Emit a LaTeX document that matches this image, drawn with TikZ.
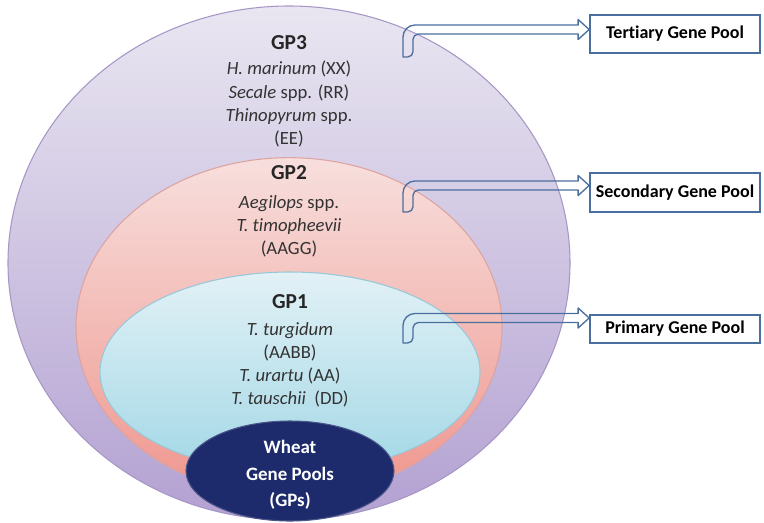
\documentclass[tikz,border=0pt]{standalone}
\usepackage{fontspec}
\setmainfont{Carlito}[Ligatures=NoCommon]
\usetikzlibrary{positioning, calc, shapes.geometric}

\definecolor{gpthreetop}{HTML}{E9E6F1}
\definecolor{gpthreebot}{HTML}{B3A1D2}
\definecolor{gpthreeline}{HTML}{A797C6}
\definecolor{gptwotop}{HTML}{F7DFDD}
\definecolor{gptwobot}{HTML}{EF968E}
\definecolor{gptwoline}{HTML}{DDA3A0}
\definecolor{gponetop}{HTML}{E2F1F6}
\definecolor{gponebot}{HTML}{A3D8E6}
\definecolor{gponeline}{HTML}{98C8D8}
\definecolor{wheatblue}{HTML}{1D2B6C}
\definecolor{arrowblue}{HTML}{4A6E9E}

\begin{document}
\begin{tikzpicture}[x=0.75pt, y=-0.75pt,
    pool/.style={ellipse, draw, line width=0.8pt, inner sep=0pt},
    pooltitle/.style={font=\fontsize{16}{19}\selectfont\bfseries, text=black!85},
    species/.style={align=center, font=\fontsize{14}{17.3}\selectfont, text=black!80},
    poolbox/.style={draw=arrowblue, line width=1.3pt, fill=white, minimum width=127.5pt,
        font=\fontsize{13.5}{15}\selectfont\bfseries},
    bentarrow/.style={draw=arrowblue, line width=1pt, line join=round}]

    \useasboundingbox (0,0) rectangle (764,522);

    % Nested gene pools
    \node[pool, draw=gpthreeline, top color=gpthreetop, bottom color=gpthreebot,
        minimum width=421.5pt, minimum height=385.5pt] (GP3) at (289,263) {};
    \node[pool, draw=gptwoline, top color=gptwotop, bottom color=gptwobot,
        minimum width=319.5pt, minimum height=254pt] (GP2) at (289,327) {};
    \node[pool, draw=gponeline, top color=gponetop, bottom color=gponebot,
        minimum width=285pt, minimum height=150pt] (GP1) at (290,372) {};
    \node[pool, draw=wheatblue!80!white, fill=wheatblue,
        minimum width=156pt, minimum height=75pt] (W) at (290,471) {};

    % Texts
    \node[pooltitle] (T3) at (289,43) {GP3};
    \node[species] (S3) at (289,104) {\textit{H. marinum} (XX)\\ \textit{Secale} spp. (RR)\\
        \textit{Thinopyrum} spp.\\ (EE)};
    \node[pooltitle] (T2) at (289,173) {GP2};
    \node[species] (S2) at (289,226) {\textit{Aegilops} spp.\\ \textit{T. timopheevii}\\ (AAGG)};
    \node[pooltitle] (T1) at (290,302) {GP1};
    \node[species] (S1) at (290,365) {\textit{T. turgidum}\\ (AABB)\\ \textit{T. urartu} (AA)\\
        \textit{T. tauschii}\ \ (DD)};
    \node[align=center, text=white, font=\fontsize{14.2}{20}\selectfont\bfseries] (WT) at (290,475)
        {Wheat\\ Gene Pools\\ (GPs)};

    % Bent arrows to the labels
    \foreach \nm/\txt/\m/\b/\c/\h in {tert/Tertiary/29.5/57/34/38, sec/Secondary/185.5/212/192.5/39,
        prim/Primary/318/343/329/28} {
        \node[poolbox, minimum height=\h*0.75pt] (box-\nm) at (675,\c) {\txt{} Gene Pool};
        \coordinate (tail-\nm) at (408,\b);
        \coordinate (bend-\nm) at (408,\m);
        \coordinate (tip-\nm) at (box-\nm.west |- bend-\nm);
        \draw[bentarrow] ($(tail-\nm)+(-5,0)$)
            {[rounded corners=9] -- ($(bend-\nm)+(-5,-4.5)$) -- ($(bend-\nm)+(60,-4.5)$)}
            -- ($(tip-\nm)+(-11,-4.5)$) -- ($(tip-\nm)+(-11,-10)$) -- (tip-\nm)
            -- ($(tip-\nm)+(-11,10)$) -- ($(tip-\nm)+(-11,4.5)$)
            {[rounded corners=4] -- ($(bend-\nm)+(5,4.5)$) -- ($(tail-\nm)+(5,0)$)} -- cycle;
    }

\end{tikzpicture}
\end{document}
